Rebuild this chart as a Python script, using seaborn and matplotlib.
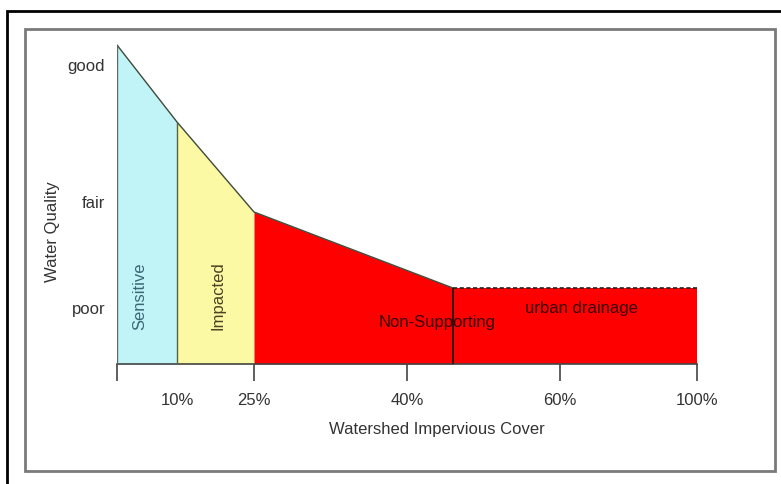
import numpy as np
import pandas as pd
import matplotlib
matplotlib.use("Agg")
import matplotlib.pyplot as plt
from matplotlib.patches import Rectangle
import seaborn as sns

# --- data ---
zone_names = ["Sensitive", "Impacted", "Non-Supporting", "urban drainage"]
zone_edges = [0, 10, 25, 46, 100]                 # % impervious cover
curve_pct = [0, 10, 25, 46, 100]                  # top of the water quality curve
curve_quality = [3.19, 2.42, 1.52, 0.76, 0.76]
tick_pct = [0, 10, 25, 40, 60, 100]
tick_labels = ["", "10%", "25%", "40%", "60%", "100%"]
quality_levels = [3.0, 1.63, 0.57]
quality_labels = ["good", "fair", "poor"]

zone_colors = ["#c1f4f7", "#fbf9a4", "#fe0000", "#fe0000"]

# the original axis is not linear: spacing of the ticks (in plot units)
tick_spacing = [0, 60, 137, 290, 443, 580]


def fwd(x):
    return np.interp(x, tick_pct, tick_spacing)


def inv(x):
    return np.interp(x, tick_spacing, tick_pct)


sns.set_theme(style="white")
plt.rcParams["font.family"] = ["Liberation Sans", "DejaVu Sans"]
text_color = "#333333"
fs = 12

fig = plt.figure(figsize=(7.81, 4.85), dpi=100)
W, H = 781, 485
ax = fig.add_axes([117 / W, (H - 365) / H, 580 / W, 325 / H])
ax.set_xscale("function", functions=(fwd, inv))

df = pd.DataFrame({"pct": curve_pct, "quality": curve_quality})

# fill each zone under the curve
for i, name in enumerate(zone_names):
    lo, hi = zone_edges[i], zone_edges[i + 1]
    xs = [p for p in curve_pct if lo <= p <= hi]
    ys = np.interp(xs, curve_pct, curve_quality)
    ax.fill_between(xs, 0, ys, color=zone_colors[i], linewidth=0, zorder=1)

# outline of the sloping part
slope = df[df["pct"] <= zone_edges[3]]
sns.lineplot(data=slope, x="pct", y="quality", ax=ax, color="#3f4a3a",
             linewidth=1.0, zorder=3)
# flat dashed top of urban drainage
flat = df[df["pct"] >= zone_edges[3]]
sns.lineplot(data=flat, x="pct", y="quality", ax=ax, color="#222222",
             linewidth=1.2, linestyle=(0, (2.5, 1.5)), zorder=3)

# zone dividers
top_at = np.interp(zone_edges, curve_pct, curve_quality)
ax.vlines(zone_edges[0], 0, top_at[0], color="#5a6a66", linewidth=1.0, zorder=3)
ax.vlines(zone_edges[1], 0, top_at[1], color="#5a6040", linewidth=1.0, zorder=3)
ax.vlines(zone_edges[3], 0, top_at[3], color="#111111", linewidth=1.2, zorder=3)

# zone labels
ax.text(3.8, 0.69, zone_names[0], rotation=90, ha="center", va="center",
        fontsize=fs, color="#3b6676")
ax.text(18, 0.69, zone_names[1], rotation=90, ha="center", va="center",
        fontsize=fs, color="#4a4424")
ax.text(43.9, 0.42, zone_names[2], ha="center", va="center",
        fontsize=fs, color="#3a0000")
ax.text(66.4, 0.57, zone_names[3], ha="center", va="center",
        fontsize=fs, color="#3a0000")

ax.set_xlim(0, 100)
ax.set_ylim(0, 3.25)

ax.set_xticks(tick_pct)
ax.set_xticklabels(tick_labels)
ax.set_yticks(quality_levels)
ax.set_yticklabels(quality_labels)
ax.tick_params(axis="x", length=12, width=1.2, color="#444444", direction="out",
               bottom=True, pad=8, labelsize=fs, labelcolor=text_color)
ax.tick_params(axis="y", length=0, pad=8.5, labelsize=fs, labelcolor=text_color)
# no tick mark under 10%
ax.xaxis.get_major_ticks()[1].tick1line.set_visible(False)

for side in ["top", "right", "left"]:
    ax.spines[side].set_visible(False)
ax.spines["bottom"].set_color("#444444")
ax.spines["bottom"].set_linewidth(1.2)
ax.patch.set_alpha(0)

ax.set_xlabel("Watershed Impervious Cover", fontsize=fs, color=text_color)
ax.xaxis.set_label_coords((437 - 117) / 580, -(430 - 365) / 325)
ax.set_ylabel("Water Quality", fontsize=fs, color=text_color)
ax.yaxis.set_label_coords((52 - 117) / 580, (365 - 232) / 325)
ax.yaxis.label.set_va("center")
ax.xaxis.label.set_va("center")

# frames around the figure
fig.add_artist(Rectangle((7 / W, -0.2), 1.2, (H - 12) / H + 0.2,
                         transform=fig.transFigure, fill=False,
                         edgecolor="black", linewidth=2))
fig.add_artist(Rectangle((25 / W, (H - 472) / H), 750 / W, 442 / H,
                         transform=fig.transFigure, fill=False,
                         edgecolor="#7a7a7a", linewidth=2))

fig.savefig("out.png", dpi=100)
